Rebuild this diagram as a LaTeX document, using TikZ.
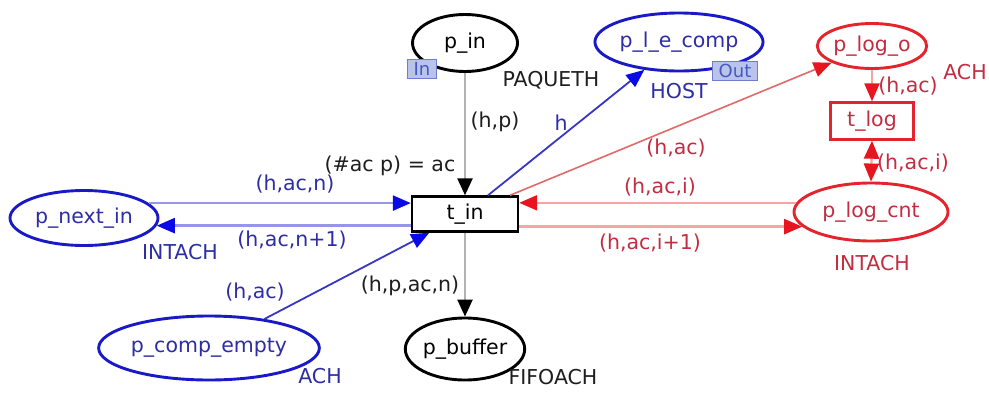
\documentclass[tikz,border=0pt]{standalone}
\usepackage{fontspec}
\setmainfont{DejaVu Sans}
\usetikzlibrary{shapes.geometric,arrows.meta,calc}
\definecolor{bluedraw}{RGB}{25,25,200}
\definecolor{bluetext}{RGB}{45,45,165}
\definecolor{bluelight}{RGB}{150,150,228}
\definecolor{blueline}{RGB}{55,55,195}
\definecolor{bluetip}{RGB}{10,10,230}
\definecolor{reddraw}{RGB}{228,35,45}
\definecolor{redtext}{RGB}{195,45,65}
\definecolor{redlight}{RGB}{245,165,165}
\definecolor{redline}{RGB}{225,105,105}
\definecolor{redtip}{RGB}{232,20,30}
\definecolor{grayline}{RGB}{178,178,178}
\definecolor{tagfill}{RGB}{185,195,235}
\definecolor{tagdraw}{RGB}{110,125,205}
\definecolor{tagtext}{RGB}{70,90,190}
\definecolor{blacktext}{RGB}{30,30,30}
\tikzset{
  TipK/.tip={Triangle[length=17pt,width=15pt,color=black]},
  TipB/.tip={Triangle[length=18pt,width=15pt,color=bluetip]},
  TipR/.tip={Triangle[length=18pt,width=15pt,color=redtip]},
  place/.style={ellipse, draw, line width=2.9pt, fill=white, inner sep=0pt},
  trans/.style={rectangle, draw, line width=2.4pt, fill=white, inner sep=0pt},
  lbl/.style={inner sep=0pt, text=blacktext},
  bluelbl/.style={inner sep=0pt, text=bluetext},
  redlbl/.style={inner sep=0pt, text=redtext},
  tag/.style={rectangle, draw=tagdraw, fill=tagfill, line width=1.2pt, text=tagtext,
    inner sep=1.5pt, font=\fontsize{18}{19}\selectfont, minimum height=19pt},
  arcgray/.style={draw=grayline, line width=2.4pt},
  arcbl/.style={draw=bluelight, line width=2.4pt},
  arcbd/.style={draw=blueline, line width=1.8pt},
  arcrl/.style={draw=redlight, line width=2.4pt},
  arcrd/.style={draw=redline, line width=1.6pt}
}
\begin{document}
\begin{tikzpicture}[x=1pt,y=-1pt, font=\fontsize{20.5}{24}\selectfont]
\useasboundingbox[fill=white] (0,0) rectangle (989,392);

% places
\node[place, minimum width=105pt, minimum height=57pt] (pin) at (465,43) {p\_in};
\node[place, draw=bluedraw, text=bluetext, minimum width=148pt, minimum height=58pt] (plecomp) at (679,42) {p\_l\_e\_comp};
\node[place, draw=reddraw, text=redtext, minimum width=99pt, minimum height=45pt] (plogo) at (872,46) {p\_log\_o};
\node[place, draw=reddraw, text=redtext, minimum width=154pt, minimum height=58pt] (plogcnt) at (871,212) {p\_log\_cnt};
\node[place, draw=bluedraw, text=bluetext, minimum width=148pt, minimum height=55pt] (pnextin) at (84,218) {p\_next\_in};
\node[place, draw=bluedraw, text=bluetext, minimum width=184pt, minimum height=64pt] (pcompempty) at (209,348) {p\_comp\_empty};
\node[place, minimum width=118pt, minimum height=62pt] (pbuffer) at (465,349) {p\_buffer};

% transitions
\node[trans, minimum width=106pt, minimum height=35pt] (tin) at (465,214) {t\_in};
\node[trans, draw=reddraw, text=redtext, minimum width=83pt, minimum height=37pt] (tlog) at (872,121) {t\_log};

% port tags
\node[tag, minimum width=29pt] (tagin) at (422,69) {In};
\node[tag, minimum width=45pt] (tagout) at (735,71) {Out};

% type labels
\node[lbl] (tpaqueth) at (551,80) {PAQUETH};
\node[bluelbl] (thost) at (679,91) {HOST};
\node[redlbl] (tach1) at (965,72) {ACH};
\node[redlbl] (tintach1) at (872,263) {INTACH};
\node[bluelbl] (tintach2) at (180,252) {INTACH};
\node[bluelbl] (tach2) at (320,376) {ACH};
\node[lbl] (tfifo) at (553,377) {FIFOACH};

% guard
\node[lbl] (guard) at (390,166) {(\#ac p) = ac};

% connectors
\draw[arcgray, -TipK] (pin.south) -- (tin.north);
\draw[arcgray, -TipK] (tin.south) -- (pbuffer.north);
\draw[arcbd, -TipB] ($(tin.north)+(23,0)$) -- (plecomp);
\draw[arcrd, -TipR] ($(tin.north)+(45,0)$) -- (plogo);
\draw[arcrl, -TipR] (plogo.south) -- (tlog.north);
\draw[arcrl, TipR-TipR] (tlog.south) -- (plogcnt.north);
\draw[arcrl, -TipR] (plogcnt.173) -- (plogcnt.173 -| tin.east);
\draw[arcrl, -TipR] (plogcnt.192 -| tin.east) -- (plogcnt.192);
\draw[arcbl, -TipB] (pnextin.13) -- (pnextin.13 -| tin.west);
\draw[arcbl, -TipB] (pnextin.354 -| tin.west) -- (pnextin.354);
\draw[arcbd, -TipB] (pcompempty) -- (tin);

% arc inscriptions
\node[lbl] (lhp) at (495,122) {(h,p)};
\node[bluelbl] (lh) at (561,123) {h};
\node[redlbl] (lhac1) at (908,86) {(h,ac)};
\node[redlbl] (lhaci1) at (913,163) {(h,ac,i)};
\node[redlbl] (lhac2) at (676,148) {(h,ac)};
\node[redlbl] (lhaci2) at (660,187) {(h,ac,i)};
\node[redlbl] (lhacip) at (650,243) {(h,ac,i+1)};
\node[bluelbl] (lhacn) at (295,184) {(h,ac,n)};
\node[bluelbl] (lhacnp) at (292,240) {(h,ac,n+1)};
\node[bluelbl] (lhac3) at (255,292) {(h,ac)};
\node[lbl] (lhpacn) at (410,286) {(h,p,ac,n)};
\end{tikzpicture}
\end{document}
